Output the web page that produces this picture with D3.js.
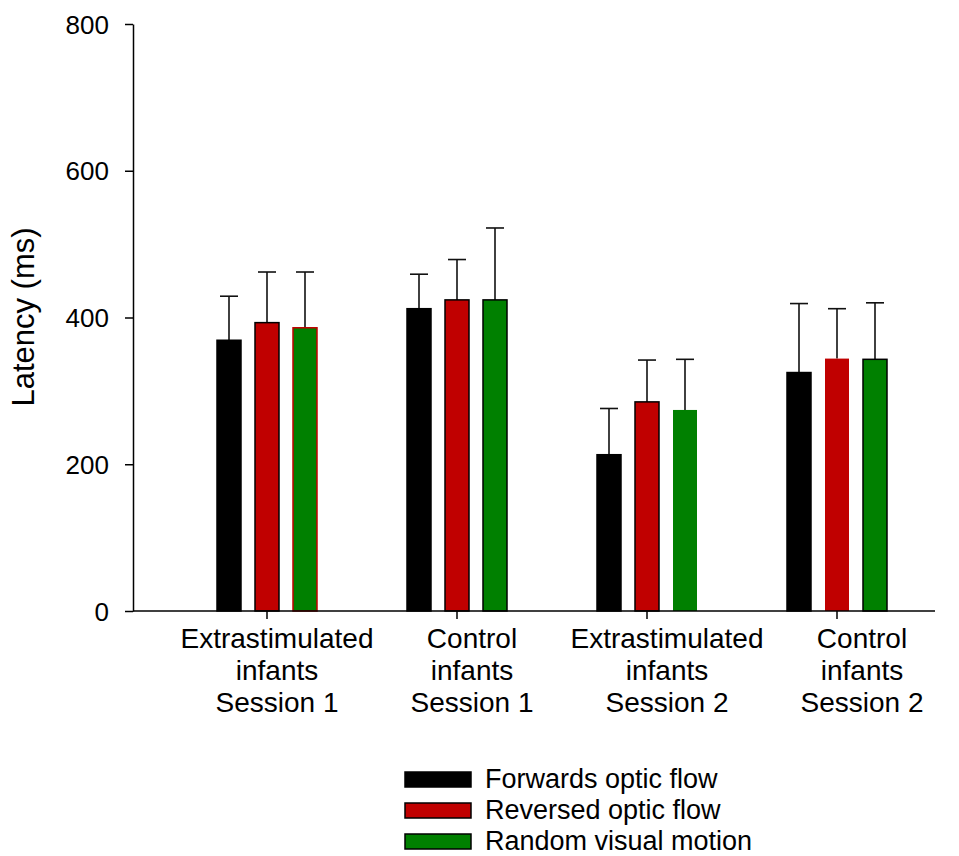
<!DOCTYPE html>
<html>
<head>
<meta charset="utf-8">
<script src="https://cdn.jsdelivr.net/npm/d3@7"></script>
<style>
body { margin: 0; background: #fff; }
text { font-family: "Liberation Sans", Arial, sans-serif; fill: #000; }
</style>
</head>
<body>
<div class="chart"></div>
<script>
// data
const groups = ['Extrastimulated infants Session 1', 'Control infants Session 1',
	'Extrastimulated infants Session 2', 'Control infants Session 2'];
const groupLines = [['Extrastimulated', 'infants', 'Session 1'], ['Control', 'infants', 'Session 1'],
	['Extrastimulated', 'infants', 'Session 2'], ['Control', 'infants', 'Session 2']];
const series = ['Forwards optic flow', 'Reversed optic flow', 'Random visual motion'];
const forwards = [369, 412, 213, 325];
const forwardsErr = [60, 47, 63, 94];
const reversed = [393, 424, 285, 344];
const reversedErr = [69, 55, 57, 68];
const random = [386, 424, 274, 343];
const randomErr = [76, 98, 69, 77];
const yTicks = [0, 200, 400, 600, 800];

const colors = ['#000000', '#c00000', '#008000'];

const width = 959;
const height = 856;

let svg = d3.select('.chart')
	.append('svg')
	.attr('width', width)
	.attr('height', height);

const y = d3.scaleLinear().domain([0, 800]).range([611, 24]);
const x = d3.scalePoint().domain(groups).range([267, 837]);
// the category labels sit a bit right of their ticks in the original
const xLab = d3.scalePoint().domain(groups).range([277, 862]);
const xs = d3.scalePoint().domain(series).range([-38, 38]);
const barW = 24;

const values = [forwards, reversed, random];
const errs = [forwardsErr, reversedErr, randomErr];

// outline quirks of the original plot: [group][series] -> stroke colour or none
function outline(g, s) {
	if (g === 0 && s === 2) return '#c00000';
	if (g === 2 && s === 2) return 'none';
	if (g === 3 && s === 1) return 'none';
	return '#000';
}

let rows = [];
groups.forEach((g, gi) => {
	series.forEach((s, si) => {
		rows.push({g: g, gi: gi, s: s, si: si, v: values[si][gi], e: errs[si][gi]});
	});
});

// error bars (upper only)
let eb = svg.append('g');
rows.forEach(d => {
	let cx = x(d.g) + xs(d.s);
	eb.append('line')
		.attr('x1', cx).attr('x2', cx)
		.attr('y1', y(d.v)).attr('y2', y(d.v + d.e))
		.style('stroke', '#111').style('stroke-width', 1.6);
	eb.append('line')
		.attr('x1', cx - 9).attr('x2', cx + 9)
		.attr('y1', y(d.v + d.e)).attr('y2', y(d.v + d.e))
		.style('stroke', '#111').style('stroke-width', 1.6);
});

// bars
svg.append('g').selectAll('rect')
	.data(rows)
	.join('rect')
	.attr('x', d => x(d.g) + xs(d.s) - barW / 2)
	.attr('width', barW)
	.attr('y', d => y(d.v))
	.attr('height', d => y(0) - y(d.v))
	.attr('fill', d => colors[d.si])
	.style('stroke', d => outline(d.gi, d.si))
	.style('stroke-width', 1.5);

// y axis
let yAxis = svg.append('g')
	.attr('transform', 'translate(133,0)')
	.call(d3.axisLeft(y).tickValues(yTicks).tickSize(8).tickPadding(16).tickSizeOuter(0));
yAxis.select('.domain').style('stroke', '#000').style('stroke-width', 1.5);
yAxis.selectAll('line').style('stroke', '#000').style('stroke-width', 1.5);
yAxis.selectAll('text').style('font-size', '26px').attr('font-family', null).attr('dy', '0.35em');

// x axis
svg.append('line')
	.attr('x1', 133).attr('x2', 935)
	.attr('y1', y(0)).attr('y2', y(0))
	.style('stroke', '#000').style('stroke-width', 1.5);
groups.forEach((g, gi) => {
	svg.append('line')
		.attr('x1', x(g)).attr('x2', x(g))
		.attr('y1', y(0)).attr('y2', y(0) + 8)
		.style('stroke', '#000').style('stroke-width', 1.5);
	groupLines[gi].forEach((t, li) => {
		svg.append('text')
			.attr('x', xLab(g))
			.attr('y', 648 + li * 32)
			.attr('text-anchor', 'middle')
			.style('font-size', '28px')
			.text(t);
	});
});

// y label
svg.append('text')
	.attr('transform', 'translate(34,317) rotate(-90)')
	.attr('text-anchor', 'middle')
	.style('font-size', '31px')
	.text('Latency (ms)');

// legend
let legend = svg.append('g');
series.forEach((s, i) => {
	legend.append('rect')
		.attr('x', 405).attr('y', 772 + i * 31)
		.attr('width', 66).attr('height', 15)
		.attr('fill', colors[i])
		.style('stroke', '#000').style('stroke-width', 1.5);
	legend.append('text')
		.attr('x', 485).attr('y', 788 + i * 31)
		.style('font-size', '27px')
		.text(s);
});
</script>
</body>
</html>
